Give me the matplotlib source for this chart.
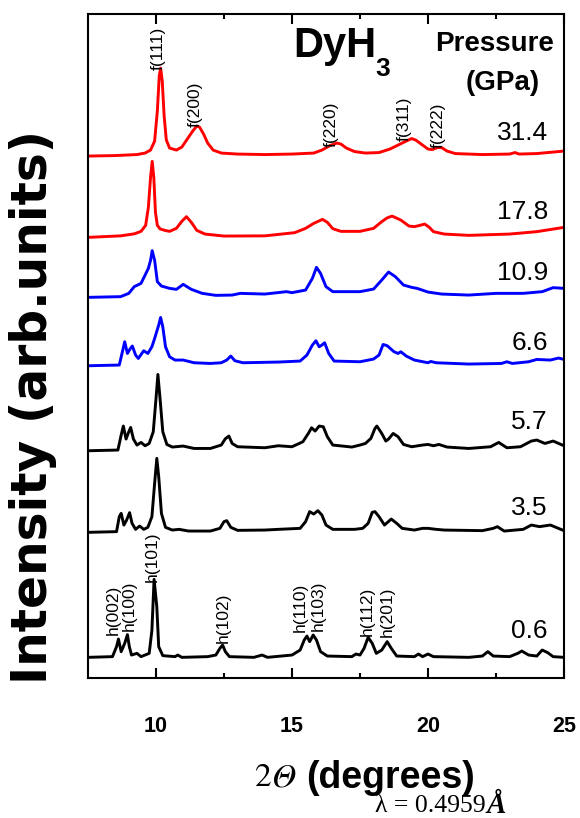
import matplotlib
matplotlib.use("Agg")
import matplotlib.pyplot as plt
import numpy as np

plt.rcParams["font.family"] = ["Liberation Sans", "DejaVu Sans"]

# pressures (GPa), top to bottom
pressures = ["31.4", "17.8", "10.9", "6.6", "5.7", "3.5", "0.6"]
colors = ["#ff0000", "#ff0000", "#0000ff", "#0000ff", "black", "black", "black"]
baselines = [522, 440.7, 380.7, 312.3, 227.3, 145.7, 20.7]

# traces: 2theta (deg) and intensity above baseline (arb. units)
x_314 = [7.5, 8.5, 9.3, 9.6, 9.8, 9.95, 10.05, 10.12, 10.17, 10.23, 10.3, 10.38, 10.5, 10.75,
         10.95, 11.15, 11.35, 11.5, 11.6, 11.75, 11.9, 12.1, 12.4, 13.0, 14.0, 15.0, 15.8, 16.1,
         16.4, 16.65, 16.8, 17.0, 17.3, 17.7, 18.2, 18.6, 18.9, 19.2, 19.4, 19.55, 19.8, 20.0,
         20.15, 20.35, 20.5, 20.7, 21.0, 22.0, 23.0, 23.2, 23.35, 24.0, 25.0]
y_314 = [0, 0.5, 1.5, 3, 6, 15, 45, 80, 88, 75, 40, 16, 8, 6,
         9, 17, 25, 30, 29, 22, 13, 6, 3, 2, 1.5, 2, 3, 6,
         10.5, 13, 12, 8, 4.5, 3, 3.5, 7, 11, 15, 17.5, 16, 11, 7,
         6.5, 8.5, 8.5, 5, 2.5, 1.5, 2, 3.5, 2, 2.5, 5]

x_178 = [7.5, 8.7, 9.2, 9.45, 9.62, 9.72, 9.8, 9.86, 9.92, 9.98, 10.05, 10.15, 10.32, 10.5,
         10.75, 10.95, 11.12, 11.3, 11.5, 11.8, 12.5, 14.0, 15.1, 15.5, 15.8, 16.12, 16.3, 16.5,
         16.8, 17.5, 18.0, 18.3, 18.5, 18.68, 19.0, 19.3, 19.5, 19.7, 19.88, 20.05, 20.2, 20.6,
         21.5, 23.0, 24.0, 25.0]
y_178 = [0, 1.5, 3.5, 6, 12, 30, 60, 76, 60, 25, 12, 8.5, 7, 6,
         9, 16, 20.7, 15, 7, 3.3, 1.3, 1.5, 4.7, 9, 14, 18, 15, 8.7,
         6, 6, 9, 15.7, 19.5, 21.3, 17.3, 11.3, 10.7, 12, 13.3, 10, 5.7, 3.3,
         2, 3.3, 5.7, 10]

x_109 = [7.5, 8.7, 9.0, 9.2, 9.45, 9.6, 9.72, 9.8, 9.86, 9.95, 10.05, 10.2, 10.5, 10.75,
         11.0, 11.3, 11.7, 12.2, 12.8, 13.1, 14.0, 14.8, 15.0, 15.5, 15.75, 15.9, 16.05, 16.25,
         16.5, 17.5, 18.0, 18.3, 18.55, 18.8, 19.1, 19.4, 19.6, 20.0, 20.5, 21.5, 22.5, 23.5,
         24.2, 24.6, 25.0]
y_109 = [0, 0.7, 4, 10.7, 14, 22.3, 29, 37, 46.7, 37, 15.7, 11.3, 9, 8,
         13, 8, 4, 2, 2.3, 4, 3.3, 5.7, 4.7, 7.3, 19, 30, 24, 10.7,
         5.7, 5.7, 8.3, 17.3, 25.3, 20.7, 12.3, 10, 9, 5.3, 3.3, 2.3, 4, 4,
         5.7, 9.7, 9]

x_66 = [7.5, 8.65, 8.78, 8.85, 8.95, 9.05, 9.13, 9.25, 9.35, 9.55, 9.7, 9.85, 9.95, 10.1,
        10.17, 10.25, 10.35, 10.5, 10.7, 11.0, 11.4, 12.0, 12.4, 12.6, 12.75, 12.9, 13.2, 14.5,
        15.3, 15.55, 15.75, 15.88, 16.0, 16.1, 16.2, 16.35, 16.55, 17.5, 18.0, 18.2, 18.35, 18.5,
        18.75, 18.9, 19.0, 19.2, 19.5, 20.0, 20.1, 20.3, 21.5, 22.7, 22.9, 23.1, 23.7, 24.0,
        24.5, 24.8, 25.0]
y_66 = [0, 0.7, 15.7, 24, 12.3, 17, 19.7, 10.7, 7.3, 15, 12.3, 19, 27.3, 40.7,
        48.3, 39, 19, 9, 5.7, 5.7, 3, 2.3, 3, 5.7, 9.7, 5, 3, 3.7,
        4.7, 10.7, 20.7, 25, 19, 20.7, 23, 12.3, 4.7, 4, 6.7, 10.7, 21.3, 20,
        14, 12.3, 14, 9.7, 5.7, 3, 4.3, 3, 1.7, 2.3, 4, 2.3, 4, 6.3,
        5.7, 7.7, 6.3]

x_57 = [7.5, 8.6, 8.72, 8.8, 8.9, 9.0, 9.07, 9.17, 9.3, 9.45, 9.6, 9.75, 9.9, 10.0,
        10.07, 10.15, 10.25, 10.4, 10.6, 11.0, 11.4, 12.0, 12.4, 12.55, 12.68, 12.8, 13.0, 14.0,
        14.5, 15.0, 15.4, 15.6, 15.72, 15.85, 16.0, 16.15, 16.3, 16.5, 17.2, 17.5, 17.7, 17.9,
        18.05, 18.12, 18.3, 18.45, 18.55, 18.72, 18.9, 19.1, 19.4, 19.8, 20.0, 20.2, 20.4, 20.7,
        21.5, 22.3, 22.6, 22.9, 23.4, 23.8, 24.0, 24.3, 24.6, 25.0]
y_57 = [0, 0.7, 15.7, 24.7, 11.7, 19, 23.3, 11.7, 5.7, 8.3, 5, 7.3, 19, 52,
        76.3, 52, 19, 6.3, 3.7, 4.7, 2.3, 2.3, 5.7, 12, 14.7, 7.3, 4, 3,
        5, 4, 9, 17.3, 23, 19.7, 24.7, 24, 14, 5.7, 3.7, 5.7, 7.3, 12.3,
        22.3, 24.7, 17.3, 9.7, 11.7, 17.3, 14, 6.3, 4, 5.7, 6.3, 5, 6.3, 3.7,
        2.3, 4, 8.3, 3, 4, 9.7, 10.7, 7.3, 9.7, 5]

x_35 = [7.5, 8.55, 8.65, 8.72, 8.82, 8.92, 9.03, 9.12, 9.25, 9.4, 9.55, 9.7, 9.85, 9.95,
        10.03, 10.1, 10.2, 10.35, 10.6, 10.85, 11.2, 12.0, 12.35, 12.5, 12.6, 12.75, 13.0, 14.0,
        14.5, 15.3, 15.5, 15.65, 15.8, 15.95, 16.1, 16.25, 16.5, 17.3, 17.6, 17.8, 17.95, 18.05,
        18.2, 18.4, 18.65, 18.85, 19.05, 19.5, 19.8, 20.0, 20.3, 20.6, 22.0, 22.4, 22.55, 22.8,
        23.5, 23.8, 24.1, 24.5, 25.0]
y_35 = [0, 0.7, 15.7, 19, 7.3, 12.3, 19.7, 9, 3, 6.3, 3, 5, 15.7, 49,
        74, 55.7, 19, 5, 2.3, 3, 1.3, 1.3, 4, 10.7, 11.7, 5, 2, 2.3,
        3, 4, 10.7, 20.7, 18.3, 21.7, 17.3, 7.3, 3, 3, 4, 9, 20, 20.7,
        15.7, 7.3, 13.3, 9, 4, 2.3, 4, 4, 3, 2.3, 1.7, 4, 5.7, 1.3,
        3, 7.3, 5.7, 7.3, 1.7]

x_06 = [7.5, 8.4, 8.55, 8.62, 8.72, 8.85, 8.95, 9.02, 9.1, 9.3, 9.45, 9.75, 9.85, 9.93,
        10.03, 10.1, 10.25, 10.7, 10.8, 10.95, 11.9, 12.2, 12.35, 12.45, 12.55, 12.7, 13.6, 13.9,
        14.1, 15.0, 15.3, 15.45, 15.55, 15.65, 15.78, 15.9, 16.05, 16.3, 17.2, 17.35, 17.5, 17.65,
        17.8, 17.95, 18.1, 18.3, 18.5, 18.65, 18.85, 19.5, 19.65, 19.8, 20.0, 20.2, 21.5, 22.0,
        22.2, 22.4, 23.0, 23.3, 23.45, 23.7, 24.0, 24.2, 24.4, 24.6, 25.0]
y_06 = [0, 0.7, 10.7, 18.3, 5.7, 14, 22.7, 10.7, 2.3, 4, 0.7, 4, 27, 78,
        50.7, 10.7, 1.7, 0.7, 2.3, 0, 0.7, 2.3, 9, 12.3, 5.7, 0.7, 0, 2.3,
        0, 2.3, 7.3, 17.3, 21.3, 15.7, 22.3, 17.3, 5.7, 1.3, 0.7, 3.3, 2.3, 9,
        20, 14, 4, 7.3, 15.7, 9, 1.3, 0.7, 3.3, 0.7, 3.3, 0.7, 0, 1.3,
        5.7, 1.3, 0.7, 4, 6.3, 2.3, 1.3, 7.3, 4.7, 0.7, 0]

traces_x = [x_314, x_178, x_109, x_66, x_57, x_35, x_06]
traces_y = [y_314, y_178, y_109, y_66, y_57, y_35, y_06]
label_y = [545, 466.3, 405, 335, 256.3, 170, 47.3]

# peak labels
f_labels = ["f(111)", "f(200)", "f(220)", "f(311)", "f(222)"]
f_pos = [10.1, 11.45, 16.45, 19.14, 20.37]
f_bottom = [608, 551.3, 531.3, 537, 529.7]
h_labels = ["h(002)", "h(100)", "h(101)", "h(102)", "h(110)", "h(103)", "h(112)", "h(201)"]
h_pos = [8.42, 9.0, 9.87, 12.46, 15.31, 15.96, 17.77, 18.5]
h_bottom = [43, 47.3, 96.3, 35.3, 46.3, 47.3, 42.3, 41.3]

xticks = [10, 15, 20, 25]

fig = plt.figure(figsize=(5.8, 8.18), dpi=100)
ax = fig.add_axes([0.1517, 0.1711, 0.8207, 0.8117])

for xs, ys, base, c in zip(traces_x, traces_y, baselines, colors):
    ax.plot(xs, np.asarray(ys) + base, color=c, linewidth=2.1,
            solid_joinstyle="round", solid_capstyle="round")

for p, ly in zip(pressures, label_y):
    ax.text(24.41, ly, p, ha="right", va="center", fontsize=19)

for lab, xp, yb in zip(f_labels, f_pos, f_bottom):
    ax.text(xp, yb, lab, rotation=90, ha="center", va="bottom", fontsize=12.5)
for lab, xp, yb in zip(h_labels, h_pos, h_bottom):
    ax.text(xp, yb, lab, rotation=90, ha="center", va="bottom", fontsize=12.5)

ax.set_xlim(7.5, 25)
ax.set_ylim(0, 664)
ax.set_xticks(xticks)
ax.set_xticklabels([str(t) for t in xticks], fontsize=15.5, fontweight="bold")
ax.set_xticks([12.5, 17.5, 22.5], minor=True)
ax.set_yticks([])
ax.tick_params(axis="x", which="both", direction="in", top=True, width=1.5)
ax.tick_params(axis="x", which="major", length=7, pad=27)
ax.tick_params(axis="x", which="minor", length=3.5)
for sp in ax.spines.values():
    sp.set_linewidth(1.5)

ax.text(15.04, 632, "DyH", fontsize=30, fontweight="bold", ha="left", va="center")
ax.text(18.05, 609, "3", fontsize=19, fontweight="bold", ha="left", va="center")
ax.text(22.46, 634, "Pressure", fontsize=20, fontweight="bold", ha="center", va="center")
ax.text(22.76, 595, "(GPa)", fontsize=20, fontweight="bold", ha="center", va="center")

fig.text(0.057, 0.503, "Intensity (arb.units)", rotation=90, ha="center", va="center",
         fontsize=35, fontweight="bold", family="DejaVu Sans")
fig.text(255 / 580, 0.049, "2", ha="left", va="center", fontsize=24, family="STIXGeneral")
fig.text(272 / 580, 0.049, "Θ", ha="left", va="center", fontsize=24, family="STIXGeneral",
         style="italic")
fig.text(306 / 580, 0.049, "(degrees)", ha="left", va="center", fontsize=27, fontweight="bold")
fig.text(0.838, 0.0147, "λ = 0.4959", ha="right", va="center", fontsize=18.5,
         family="Liberation Serif")
fig.text(0.838, 0.0147, "Å", ha="left", va="center", fontsize=21,
         family="Liberation Serif", fontweight="bold", style="italic")

fig.savefig("out.png", dpi=100)
